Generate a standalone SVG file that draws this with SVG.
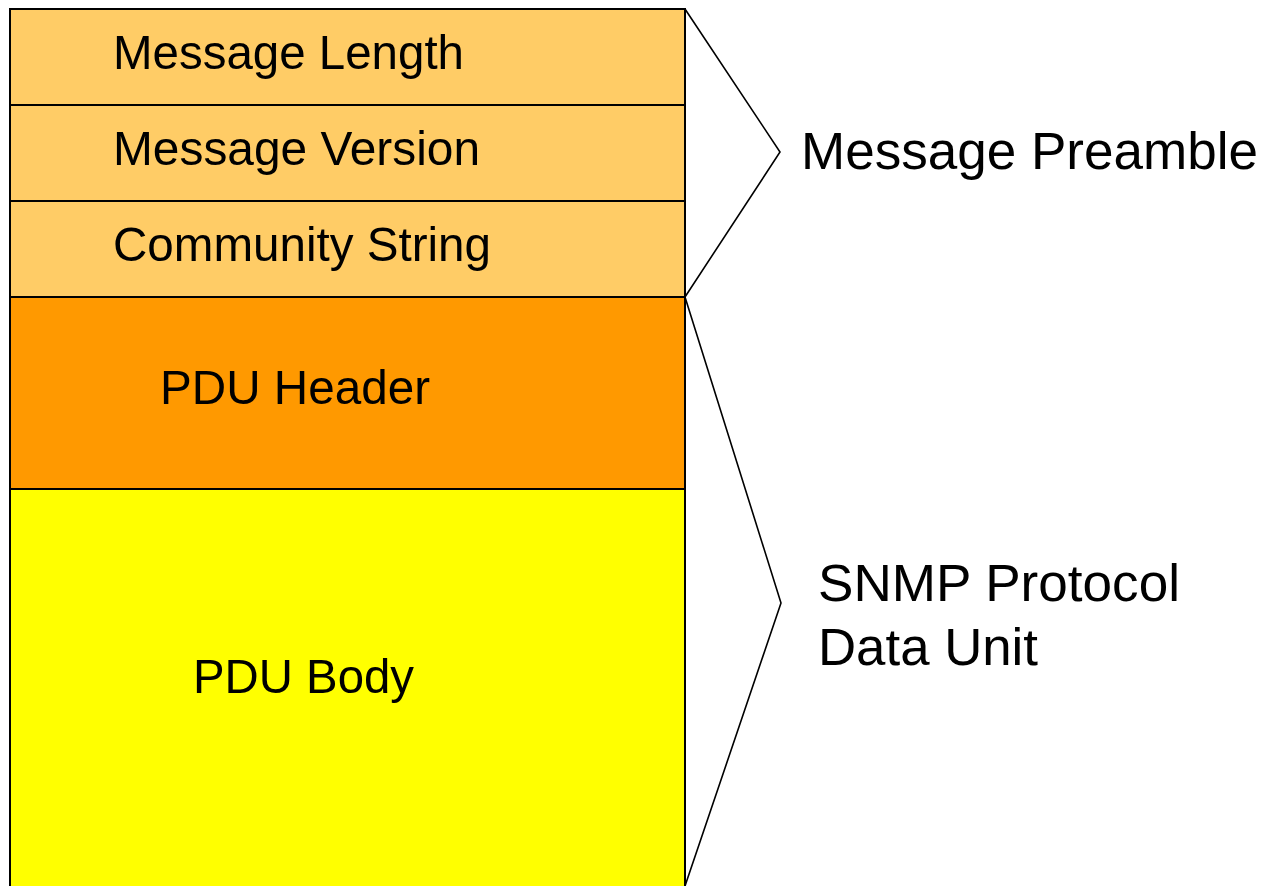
<svg xmlns="http://www.w3.org/2000/svg" width="1270" height="886" viewBox="0 0 1270 886">
<style>
.box{stroke:#000;stroke-width:2}
.pre{fill:#FFCC66}
.hdr{fill:#FF9900}
.body{fill:#FFFF00}
.lbl{font-family:"Liberation Sans",Arial,sans-serif;font-size:49px;fill:#000}
.side{font-family:"Liberation Sans",Arial,sans-serif;font-size:51px;fill:#000}
.brace{fill:none;stroke:#000;stroke-width:1.6;stroke-linejoin:miter}
</style>
<rect width="1270" height="886" fill="#fff"/>
<g id="message-length"><rect class="box pre" x="10" y="9" width="675" height="96"/><text class="lbl" x="113" y="69" textLength="351" lengthAdjust="spacingAndGlyphs">Message Length</text></g>
<g id="message-version"><rect class="box pre" x="10" y="105" width="675" height="96"/><text class="lbl" x="113" y="165" textLength="367" lengthAdjust="spacingAndGlyphs">Message Version</text></g>
<g id="community-string"><rect class="box pre" x="10" y="201" width="675" height="96"/><text class="lbl" x="113" y="261" textLength="378" lengthAdjust="spacingAndGlyphs">Community String</text></g>
<g id="pdu-header"><rect class="box hdr" x="10" y="297" width="675" height="192"/><text class="lbl" x="160" y="404" textLength="270" lengthAdjust="spacingAndGlyphs">PDU Header</text></g>
<g id="pdu-body"><rect class="box body" x="10" y="489" width="675" height="410"/><text class="lbl" x="193" y="693" textLength="221" lengthAdjust="spacingAndGlyphs">PDU Body</text></g>
<g id="connectors">
<polyline class="brace" points="685,9 780,152 685,297"/>
<polyline class="brace" points="685,297 781,603 685,886"/>
</g>
<g id="message-preamble"><text class="side" x="801" y="169" textLength="457" lengthAdjust="spacingAndGlyphs">Message Preamble</text></g>
<g id="snmp-pdu"><text class="side" x="818" y="601" textLength="362" lengthAdjust="spacingAndGlyphs">SNMP Protocol</text><text class="side" x="818" y="665" textLength="220" lengthAdjust="spacingAndGlyphs">Data Unit</text></g>
</svg>
